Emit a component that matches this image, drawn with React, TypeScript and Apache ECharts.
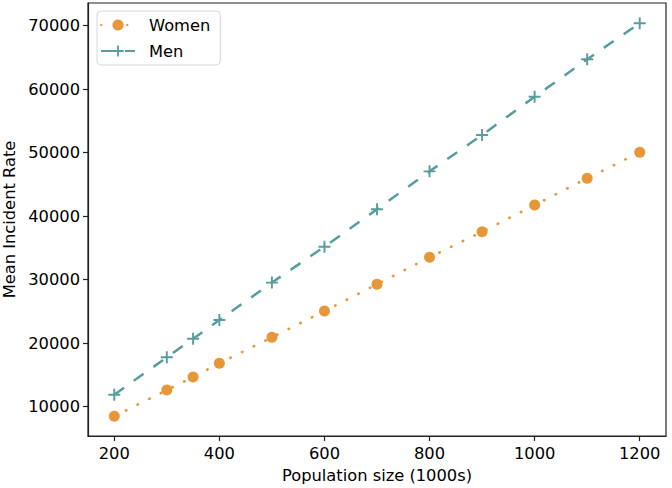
import React, { useEffect, useRef } from "react";
import * as echarts from "echarts";

const populationSizes = [200, 300, 350, 400, 500, 600, 700, 800, 900, 1000, 1100, 1200];
const womenRates = [8490, 12630, 14680, 16830, 20930, 25070, 29280, 33530, 37560, 41760, 45970, 50060];
const menRates = [11890, 17780, 20710, 23650, 29550, 35200, 41090, 47070, 52790, 58820, 64710, 70400];
const xTicks = [200, 400, 600, 800, 1000, 1200];
const yTicks = [10000, 20000, 30000, 40000, 50000, 60000, 70000];

const FONT = "DejaVu Sans";
const FS = 16.3;
const ORANGE = "#E8963A";
const TEAL = "#569E9C";
const PLUS = "path://M0,4.2H10V5.8H0Z M4.2,0H5.8V10H4.2Z";

export default function App() {
  const ref = useRef<HTMLDivElement>(null);
  useEffect(() => {
    if (!ref.current) return;
    const chart = echarts.init(ref.current, null, { renderer: "svg" });
    chart.setOption({
      animation: false,
      backgroundColor: "#ffffff",
      textStyle: { fontFamily: FONT },
      grid: {
        left: 88,
        right: 6,
        top: 3,
        bottom: 52,
        show: true,
        containLabel: false,
        outerBoundsMode: "none",
        borderColor: "#222",
        borderWidth: 1.2,
        backgroundColor: "transparent",
      },
      legend: {
        left: 97,
        top: 11,
        orient: "vertical",
        itemWidth: 34,
        itemHeight: 14,
        itemGap: 10,
        padding: [6, 10, 6, 3],
        borderColor: "#d6d6d6",
        borderWidth: 1,
        borderRadius: 4,
        backgroundColor: "#fff",
        textStyle: { fontFamily: FONT, fontSize: FS, color: "#000", padding: [0, 0, 0, 9] },
        data: ["Women", "Men"],
      },
      xAxis: {
        type: "value",
        min: 150,
        max: 1250,
        name: "Population size (1000s)",
        nameLocation: "middle",
        nameGap: 31,
        nameTextStyle: { fontFamily: FONT, fontSize: FS, color: "#000", verticalAlign: "top" },
        axisLine: { show: true, onZero: false, lineStyle: { color: "#222", width: 1.2 } },
        axisTick: { show: true, length: 5, customValues: xTicks, lineStyle: { color: "#222", width: 1.2 } },
        axisLabel: {
          customValues: xTicks,
          fontFamily: FONT,
          fontSize: FS,
          color: "#000",
          margin: 9,
          formatter: (v: number) => String(v),
        },
        splitLine: { show: false },
      },
      yAxis: {
        type: "value",
        min: 5390,
        max: 73580,
        name: "Mean Incident Rate",
        nameLocation: "middle",
        nameGap: 69,
        nameTextStyle: { fontFamily: FONT, fontSize: FS, color: "#000" },
        axisLine: { show: true, onZero: false, lineStyle: { color: "#222", width: 1.2 } },
        axisTick: { show: true, length: 5, customValues: yTicks, lineStyle: { color: "#222", width: 1.2 } },
        axisLabel: {
          customValues: yTicks,
          fontFamily: FONT,
          fontSize: FS,
          color: "#000",
          margin: 8,
          formatter: (v: number) => String(v),
        },
        splitLine: { show: false },
      },
      series: [
        {
          name: "Women",
          type: "line",
          data: populationSizes.map((x, i) => [x, womenRates[i]]),
          symbol: "circle",
          symbolSize: 11,
          showAllSymbol: true,
          itemStyle: { color: ORANGE, borderWidth: 0 },
          lineStyle: { color: ORANGE, width: 2.6, type: [0.5, 12.5], cap: "round" },
        },
        {
          name: "Men",
          type: "line",
          data: populationSizes.map((x, i) => [x, menRates[i]]),
          symbol: PLUS,
          symbolSize: 12,
          showAllSymbol: true,
          itemStyle: { color: TEAL, borderWidth: 0 },
          lineStyle: { color: TEAL, width: 2.5, type: [12, 12] },
        },
      ],
    });
    return () => chart.dispose();
  }, []);
  return <div ref={ref} style={{ position: "fixed", left: 0, top: 0, width: 672, height: 488 }} />;
}
